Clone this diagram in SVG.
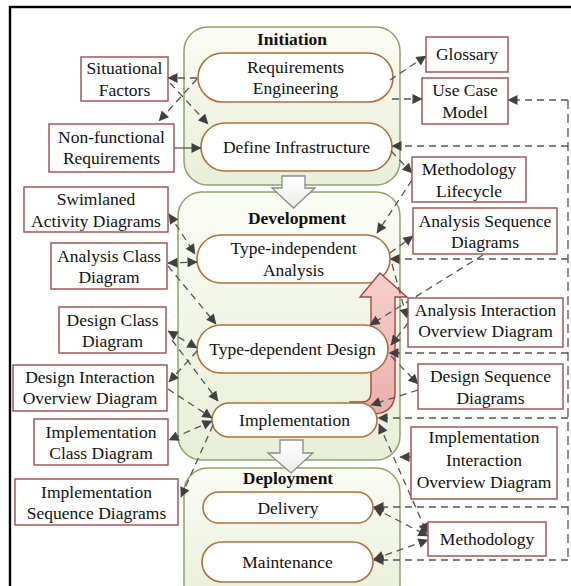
<svg xmlns="http://www.w3.org/2000/svg" width="571" height="586" viewBox="0 0 571 586" font-family="'Liberation Serif', 'DejaVu Serif', 'Noto Serif', serif">
<defs>
<linearGradient id="grp" x1="0" y1="0" x2="0" y2="1">
<stop offset="0" stop-color="#fbfcf5"/>
<stop offset="1" stop-color="#e8efd8"/>
</linearGradient>
<linearGradient id="pink" x1="0" y1="0" x2="0" y2="1">
<stop offset="0" stop-color="#f6d0cc"/>
<stop offset="1" stop-color="#eab0ad"/>
</linearGradient>
<linearGradient id="blk" x1="0" y1="0" x2="0" y2="1">
<stop offset="0" stop-color="#ffffff"/>
<stop offset="1" stop-color="#ececec"/>
</linearGradient>
<marker id="ah" viewBox="0 0 10 10" refX="9.5" refY="5" markerWidth="11" markerHeight="10" markerUnits="userSpaceOnUse" orient="auto-start-reverse">
<path d="M0,0 L10,5 L0,10 z" fill="#404040"/>
</marker>
</defs>
<style>
.grp{fill:url(#grp);stroke:#8ca46a;stroke-width:1.5}
.node{fill:#ffffff;stroke:#b0703c;stroke-width:1.6}
.art{fill:#ffffff;stroke:#a04a4a;stroke-width:1.4}
.blk{fill:url(#blk);stroke:#8a8a8a;stroke-width:1.3}
text{font-family:'Liberation Serif','DejaVu Serif',serif;font-size:17.5px;fill:#111;text-anchor:middle}
.h{font-weight:bold}
.c{fill:none;stroke:#555;stroke-width:1.3;stroke-dasharray:7,5;marker-end:url(#ah)}
.b{marker-start:url(#ah)}
.s{stroke-dasharray:none}
.bus{fill:none;stroke:#555;stroke-width:1.3;stroke-dasharray:9,5}
</style>
<rect x="10" y="7" width="600" height="600" fill="#ffffff" stroke="#000" stroke-width="2.4"/>

<g id="phase-initiation">
<rect class="grp" x="184" y="27" width="216" height="158" rx="24"/>
<text class="h" x="292" y="45">Initiation</text>
</g>
<g id="phase-development">
<rect class="grp" x="178" y="192" width="222" height="268" rx="24"/>
<text class="h" x="297" y="224">Development</text>
</g>
<g id="phase-deployment">
<rect class="grp" x="184" y="468" width="216" height="140" rx="24"/>
<text class="h" x="288" y="484">Deployment</text>
</g>

<g id="phase-arrows">
<path class="blk" d="M282,176 H305 V188 H315 L293.5,208 L272,188 H282 Z"/>
<path class="blk" d="M280,440 H303 V453 H313 L291,473 L268,453 H280 Z"/>
</g>

<g id="requirements-engineering">
<rect class="node" x="198" y="53" width="195" height="49" rx="24.5"/>
<text x="295.5" y="73">Requirements</text>
<text x="295.5" y="94">Engineering</text>
</g>
<g id="define-infrastructure">
<rect class="node" x="201" y="123" width="191" height="48" rx="24"/>
<text x="296.5" y="152.5">Define Infrastructure</text>
</g>
<g id="type-independent-analysis">
<rect class="node" x="197" y="235" width="193" height="48" rx="24"/>
<text x="293.5" y="254">Type-independent</text>
<text x="293.5" y="275.5">Analysis</text>
</g>
<g id="iteration-arrow">
<path d="M371,297 H360 L380,273 L407,297 H395 V392 Q395,414 372,414 H350 V402 H362 Q371,402 371,392 Z" fill="url(#pink)" stroke="#a9443f" stroke-width="1.4"/>
</g>
<g id="type-dependent-design">
<rect class="node" x="197" y="325" width="191" height="48" rx="24"/>
<text x="292.5" y="355">Type-dependent Design</text>
</g>
<g id="implementation">
<rect class="node" x="212" y="403" width="165" height="34" rx="17"/>
<text x="294.5" y="425.5">Implementation</text>
</g>
<g id="delivery">
<rect class="node" x="203" y="492" width="170" height="31" rx="15.5"/>
<text x="288" y="514">Delivery</text>
</g>
<g id="maintenance">
<rect class="node" x="202" y="542" width="171" height="40" rx="20"/>
<text x="287.5" y="568">Maintenance</text>
</g>

<g id="connectors">
<line class="c" x1="197" y1="78" x2="168" y2="78"/>
<line class="c" x1="197" y1="79" x2="159" y2="121"/>
<line class="c" x1="170" y1="83" x2="208" y2="124"/>
<line class="c s" x1="174" y1="148" x2="201" y2="148"/>
<line class="c b" x1="169" y1="214" x2="195" y2="254"/>
<line class="c b" x1="168" y1="263" x2="197" y2="262"/>
<line class="c" x1="168" y1="266" x2="216" y2="324"/>
<line class="c b" x1="168" y1="331" x2="197" y2="348"/>
<line class="c" x1="172" y1="340" x2="218" y2="401"/>
<line class="c" x1="197" y1="351" x2="169" y2="382"/>
<line class="c" x1="168" y1="389" x2="212" y2="418"/>
<line class="c b" x1="212" y1="421" x2="169" y2="440"/>
<line class="c" x1="213" y1="425" x2="181" y2="497"/>

<line class="c" x1="390" y1="80" x2="426" y2="56"/>
<line class="c" x1="392" y1="99" x2="422" y2="99"/>
<line class="c" x1="391" y1="151" x2="412" y2="173"/>
<line class="c" x1="412" y1="180" x2="377" y2="233"/>
<line class="c" x1="390" y1="253" x2="413" y2="236"/>
<line class="c" x1="483" y1="255" x2="370" y2="325"/>
<line class="c" x1="392" y1="264" x2="407" y2="318"/>
<line class="c" x1="408" y1="323" x2="391" y2="345"/>
<line class="c" x1="391" y1="356" x2="418" y2="384"/>
<line class="c" x1="418" y1="390" x2="371" y2="405"/>
<line class="c b" x1="379" y1="424" x2="427" y2="533"/>
<line class="c b" x1="374" y1="508" x2="428" y2="536"/>
<line class="c b" x1="374" y1="559" x2="428" y2="540"/>
<line class="c s" x1="411" y1="457" x2="400" y2="457"/>

<path class="bus" d="M568,100 V560"/>
<line class="c" x1="568" y1="100" x2="508" y2="100"/>
<line class="c" x1="568" y1="146" x2="392" y2="146"/>
<line class="c" x1="568" y1="259" x2="390" y2="259"/>
<line class="c" x1="568" y1="353" x2="389" y2="353"/>
<line class="c" x1="568" y1="418" x2="378" y2="418"/>
<line class="c" x1="568" y1="507" x2="374" y2="507"/>
<line class="c" x1="568" y1="560" x2="374" y2="560"/>
</g>

<g id="situational-factors">
<rect class="art" x="81" y="57" width="87" height="44"/>
<text x="124.5" y="74">Situational</text>
<text x="124.5" y="95.5">Factors</text>
</g>
<g id="non-functional-requirements">
<rect class="art" x="49" y="124" width="125" height="48"/>
<text x="111.5" y="143">Non-functional</text>
<text x="111.5" y="164">Requirements</text>
</g>
<g id="swimlaned-activity-diagrams">
<rect class="art" x="24" y="187" width="144" height="45"/>
<text x="96" y="205">Swimlaned</text>
<text x="96" y="226.5">Activity Diagrams</text>
</g>
<g id="analysis-class-diagram">
<rect class="art" x="51" y="243" width="116" height="46"/>
<text x="109" y="261.5">Analysis Class</text>
<text x="109" y="282.5">Diagram</text>
</g>
<g id="design-class-diagram">
<rect class="art" x="59" y="307" width="107" height="46"/>
<text x="112.5" y="325.5">Design Class</text>
<text x="112.5" y="346.5">Diagram</text>
</g>
<g id="design-interaction-overview-diagram">
<rect class="art" x="13" y="365" width="154" height="46"/>
<text x="90" y="383">Design Interaction</text>
<text x="90" y="404">Overview Diagram</text>
</g>
<g id="implementation-class-diagram">
<rect class="art" x="34" y="419" width="134" height="46"/>
<text x="101" y="437.5">Implementation</text>
<text x="101" y="458.5">Class Diagram</text>
</g>
<g id="implementation-sequence-diagrams">
<rect class="art" x="15" y="479" width="163" height="46"/>
<text x="96.5" y="497.5">Implementation</text>
<text x="96.5" y="518.5">Sequence Diagrams</text>
</g>

<g id="glossary">
<rect class="art" x="426" y="37" width="82" height="35"/>
<text x="467" y="60">Glossary</text>
</g>
<g id="use-case-model">
<rect class="art" x="422" y="78" width="86" height="46"/>
<text x="465" y="96">Use Case</text>
<text x="465" y="117.5">Model</text>
</g>
<g id="methodology-lifecycle">
<rect class="art" x="412" y="157" width="114" height="45"/>
<text x="469" y="175">Methodology</text>
<text x="469" y="196.5">Lifecycle</text>
</g>
<g id="analysis-sequence-diagrams">
<rect class="art" x="413" y="208" width="144" height="46"/>
<text x="485" y="227">Analysis Sequence</text>
<text x="485" y="248">Diagrams</text>
</g>
<g id="analysis-interaction-overview-diagram">
<rect class="art" x="408" y="298" width="155" height="49"/>
<text x="485.5" y="316">Analysis Interaction</text>
<text x="485.5" y="337">Overview Diagram</text>
</g>
<g id="design-sequence-diagrams">
<rect class="art" x="418" y="364" width="145" height="45"/>
<text x="490.5" y="382">Design Sequence</text>
<text x="490.5" y="403.5">Diagrams</text>
</g>
<g id="implementation-interaction-overview-diagram">
<rect class="art" x="411" y="427" width="146" height="72"/>
<text x="484" y="443">Implementation</text>
<text x="484" y="466">Interaction</text>
<text x="484" y="488">Overview Diagram</text>
</g>
<g id="methodology">
<rect class="art" x="428" y="522" width="118" height="34"/>
<text x="487" y="545">Methodology</text>
</g>
</svg>
